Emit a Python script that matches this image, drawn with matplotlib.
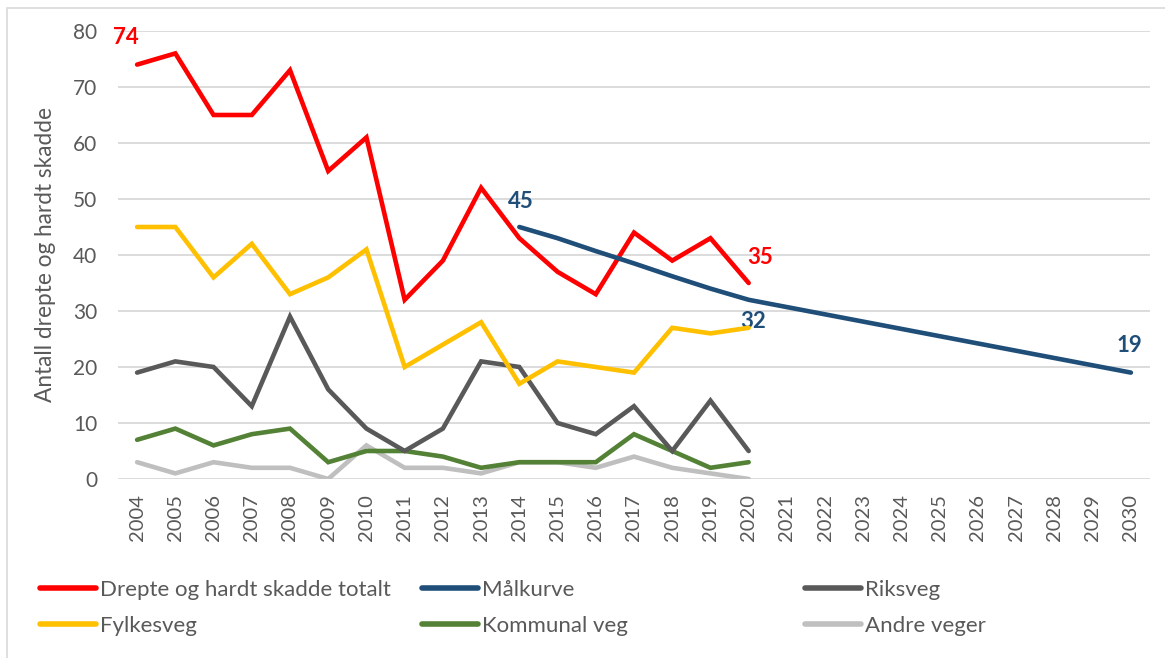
import matplotlib
matplotlib.use("Agg")
import matplotlib.pyplot as plt
from matplotlib.lines import Line2D
from matplotlib.patches import Rectangle

plt.rcParams['font.family'] = ['Lato', 'DejaVu Sans']

years = list(range(2004, 2031))
years_obs = list(range(2004, 2021))
total = [74, 76, 65, 65, 73, 55, 61, 32, 39, 52, 43, 37, 33, 44, 39, 43, 35]
fylkesveg = [45, 45, 36, 42, 33, 36, 41, 20, 24, 28, 17, 21, 20, 19, 27, 26, 27]
riksveg = [19, 21, 20, 13, 29, 16, 9, 5, 9, 21, 20, 10, 8, 13, 5, 14, 5]
kommunal = [7, 9, 6, 8, 9, 3, 5, 5, 4, 2, 3, 3, 3, 8, 5, 2, 3]
andre = [3, 1, 3, 2, 2, 0, 6, 2, 2, 1, 3, 3, 2, 4, 2, 1, 0]
maal_years = list(range(2014, 2031))
maal = [45, 43, 40.7, 38.5, 36.2, 34, 32, 30.7, 29.4, 28.1, 26.8, 25.5, 24.2, 22.9, 21.6, 20.3, 19]

year_labels = [str(y) for y in years]
yticks = [0, 10, 20, 30, 40, 50, 60, 70, 80]

C_RED = '#FF0000'
C_NAVY = '#1F4E79'
C_DGRAY = '#595959'
C_YEL = '#FFC000'
C_GRN = '#538135'
C_LGRAY = '#BFBFBF'

fig = plt.figure(figsize=(11.65, 6.58), dpi=100)
ax = fig.add_axes([118/1165, 1-479/658, (1150-118)/1165, (479-31)/658])

def xi(yrs):
    return [y - 2004 for y in yrs]

lw = 3.3
kw = dict(lw=lw, solid_capstyle='round', solid_joinstyle='miter')
ax.plot(xi(years_obs), andre, color=C_LGRAY, label='Andre veger', zorder=3, **kw)
ax.plot(xi(years_obs), kommunal, color=C_GRN, label='Kommunal veg', zorder=4, **kw)
ax.plot(xi(years_obs), riksveg, color=C_DGRAY, label='Riksveg', zorder=5, **kw)
ax.plot(xi(years_obs), fylkesveg, color=C_YEL, label='Fylkesveg', zorder=6, **kw)
ax.plot(xi(years_obs), total, color=C_RED, label='Drepte og hardt skadde totalt', zorder=7, **kw)
ax.plot(xi(maal_years), maal, color=C_NAVY, label='Målkurve', zorder=8,
        lw=lw, solid_capstyle='round', solid_joinstyle='round')

ax.set_xlim(-0.5, len(years) - 0.5)
ax.set_ylim(0, 80)
ax.set_yticks(yticks)
ax.set_yticklabels([str(v) for v in yticks], fontsize=15, color=C_DGRAY)
ax.set_xticks(range(len(years)))
ax.set_xticklabels(year_labels, rotation=90, fontsize=14.5, color=C_DGRAY)
ax.tick_params(axis='y', length=0, pad=15)
ax.tick_params(axis='x', length=0, pad=11)
ax.grid(axis='y', color='#D9D9D9', lw=1.3, zorder=0)
ax.set_axisbelow(True)
for s in ax.spines.values():
    s.set_visible(False)
ax.set_ylabel('Antall drepte og hardt skadde', fontsize=16.3, color=C_DGRAY, labelpad=12)

fs_lab = 16
bold = dict(fontsize=fs_lab, fontweight='bold', textcoords='offset points')
ax.annotate(str(total[0]), (0, total[0]), xytext=(-17, 12), color=C_RED,
            ha='left', va='bottom', **bold)
ax.annotate(str(maal[0]), (maal_years[0] - 2004, maal[0]), xytext=(-8, 11), color=C_NAVY,
            ha='left', va='bottom', **bold)
ax.annotate(str(total[-1]), (years_obs[-1] - 2004, total[-1]), xytext=(-1, 11), color=C_RED,
            ha='left', va='bottom', **bold)
i2020 = maal_years.index(2020)
ax.annotate(str(int(maal[i2020])), (2020 - 2004, maal[i2020]), xytext=(-6, -8), color=C_NAVY,
            ha='left', va='top', **bold)
ax.annotate(str(maal[-1]), (2030 - 2004, maal[-1]), xytext=(-10, 12), color=C_NAVY,
            ha='left', va='bottom', **bold)

handles = {h.get_label(): h for h in ax.get_lines()}
cols = [['Drepte og hardt skadde totalt', 'Fylkesveg'],
        ['Målkurve', 'Kommunal veg'],
        ['Riksveg', 'Andre veger']]
col_x = [40/1165, 422/1165, 805/1165]
for cx, names in zip(col_x, cols):
    hs = [Line2D([], [], color=handles[n].get_color(), lw=4, solid_capstyle='round') for n in names]
    fig.legend(hs, names, loc='center left', bbox_to_anchor=(cx, 1-607.5/658), frameon=False,
               fontsize=16, handlelength=2.5, handletextpad=0.22, labelspacing=0.72,
               borderaxespad=0, borderpad=0, labelcolor=C_DGRAY)

fig.patches.append(Rectangle((7/1165, -0.05), 1.1, 0.05 + (658-8)/658, transform=fig.transFigure,
                             fill=False, edgecolor='#D9D9D9', lw=1.2))

fig.savefig('out.png', dpi=100)
